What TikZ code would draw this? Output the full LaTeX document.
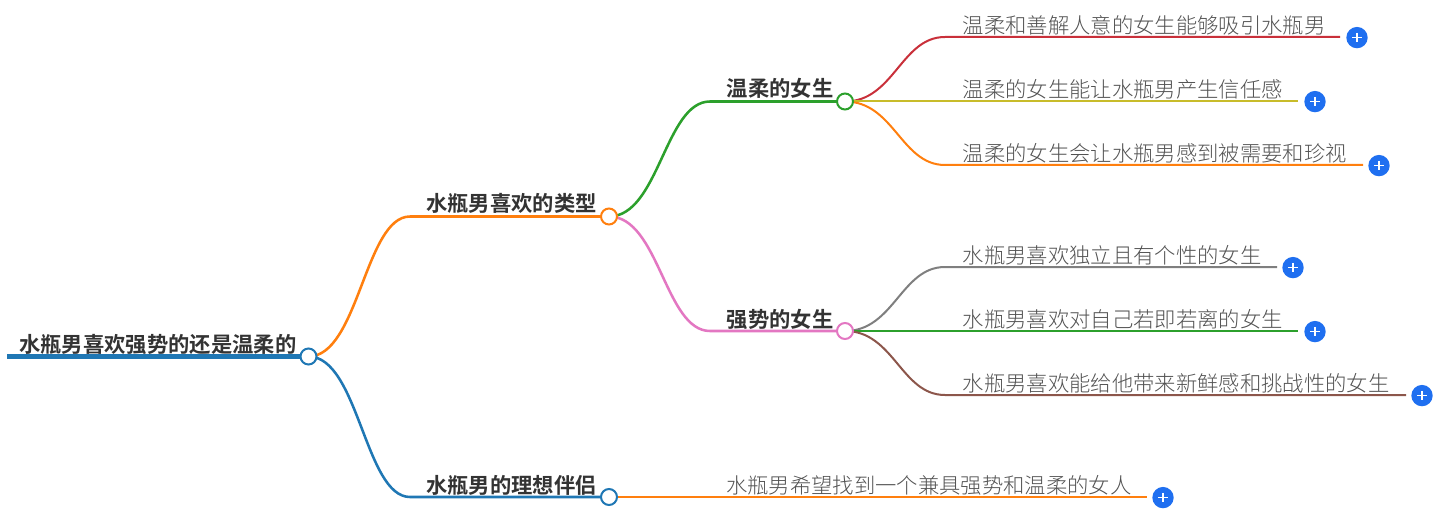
\documentclass[tikz,border=0pt]{standalone}
\usepackage{fontspec}
\newfontfamily\cjkb{Noto Sans CJK SC Bold}
\newfontfamily\cjkl{Noto Sans CJK SC Light}
\definecolor{cblue}{HTML}{1F77B4}
\definecolor{corange}{HTML}{FF7F0E}
\definecolor{cgreen}{HTML}{2CA02C}
\definecolor{cpink}{HTML}{E377C2}
\definecolor{cred}{HTML}{C9303A}
\definecolor{cyellow}{HTML}{C8BC2A}
\definecolor{cgray}{HTML}{7F7F7F}
\definecolor{cbrown}{HTML}{8C564B}
\definecolor{plusblue}{HTML}{1F6FF0}
\tikzset{
  x=0.75pt,y=-0.75pt,
  hub/.style={circle,draw=#1,fill=white,line width=1.5pt,minimum size=12pt,inner sep=0pt},
  plusbtn/.style={circle,fill=plusblue,minimum size=16pt,inner sep=0pt,
    path picture={\draw[white,line width=1.3pt] (path picture bounding box.center) ++(-4.8,0) -- ++(9.6,0) (path picture bounding box.center) ++(0,-4.8) -- ++(0,9.6);}},
  strong/.style={anchor=base west,inner sep=0pt,font=\cjkb\fontsize{16}{16}\selectfont,text=black!80},
  leaf/.style={anchor=base west,inner sep=0pt,font=\cjkl\fontsize{16}{16}\selectfont,text=black!68},
  main/.style={line width=1.9pt},
  sub/.style={line width=1.5pt},
}
\begin{document}
\begin{tikzpicture}
\useasboundingbox (0,0) rectangle (1455,520);
\coordinate (start) at (7,356.5);
\coordinate (t) at (410,216.5);
\coordinate (i) at (410,497);
\coordinate (a) at (710,101.5);
\coordinate (b) at (710,331);
\coordinate (a1) at (945,37);
\coordinate (a2) at (945,101.5);
\coordinate (a3) at (945,165);
\coordinate (b1) at (945,267);
\coordinate (b2) at (945,331);
\coordinate (b3) at (945,395);
\path (308.5,356.5) coordinate (rootc) (609,216.5) coordinate (typec) (609,497) coordinate (idealc)
      (845,101.5) coordinate (softc) (845,331) coordinate (strongc);
\node[plusbtn] (p1) at (1357,37.6) {};
\node[plusbtn] (p2) at (1315,101.6) {};
\node[plusbtn] (p3) at (1379,165.6) {};
\node[plusbtn] (p4) at (1293,267.6) {};
\node[plusbtn] (p5) at (1315,331.6) {};
\node[plusbtn] (p6) at (1422,395.6) {};
\node[plusbtn] (p7) at (1163,497.6) {};
\coordinate (e1) at (1340,37);
\coordinate (e2) at (1298,101.5);
\coordinate (e3) at (1363,165);
\coordinate (e4) at (1277,267);
\coordinate (e5) at (1298,331);
\coordinate (e6) at (1406,395);
\coordinate (e7) at (1147,497);
\draw[cblue,line width=3.6pt] (start) -- (rootc);
\draw[main,corange] (rootc) .. controls +(50,0) and +(-45,0) .. (t) -- (typec);
\draw[main,cblue] (rootc) .. controls +(50,0) and +(-45,0) .. (i) -- (idealc);
\draw[main,cgreen] (typec) .. controls +(50,0) and +(-45,0) .. (a) -- (softc);
\draw[main,cpink] (typec) .. controls +(50,0) and +(-45,0) .. (b) -- (strongc);
\draw[sub,cred] (softc) .. controls +(49,0) and +(-44,0) .. (a1) -- (e1);
\draw[sub,cyellow] (softc) -- (a2) -- (e2);
\draw[sub,corange] (softc) .. controls +(49,0) and +(-44,0) .. (a3) -- (e3);
\draw[sub,cgray] (strongc) .. controls +(49,0) and +(-44,0) .. (b1) -- (e4);
\draw[sub,cgreen] (strongc) -- (b2) -- (e5);
\draw[sub,cbrown] (strongc) .. controls +(49,0) and +(-44,0) .. (b3) -- (e6);
\draw[sub,corange] (idealc) -- (e7);
\node[hub=cblue] (root) at (rootc) {};
\node[hub=corange] (type) at (typec) {};
\node[hub=cblue] (ideal) at (idealc) {};
\node[hub=cgreen] (soft) at (softc) {};
\node[hub=cpink] (strongn) at (strongc) {};
\node[strong] (l0) at (19,352) {水瓶男喜欢强势的还是温柔的};
\node[strong] (l1) at (426,212) {水瓶男喜欢的类型};
\node[strong] (l2) at (426,493) {水瓶男的理想伴侣};
\node[strong] (l3) at (726.5,97) {温柔的女生};
\node[strong] (l4) at (726.5,327) {强势的女生};
\node[leaf] (t1) at (962.5,34) {温柔和善解人意的女生能够吸引水瓶男};
\node[leaf] (t2) at (962.5,98) {温柔的女生能让水瓶男产生信任感};
\node[leaf] (t3) at (962.5,162) {温柔的女生会让水瓶男感到被需要和珍视};
\node[leaf] (t4) at (962.5,263) {水瓶男喜欢独立且有个性的女生};
\node[leaf] (t5) at (962.5,327) {水瓶男喜欢对自己若即若离的女生};
\node[leaf] (t6) at (962.5,391) {水瓶男喜欢能给他带来新鲜感和挑战性的女生};
\node[leaf] (t7) at (726,493) {水瓶男希望找到一个兼具强势和温柔的女人};
\end{tikzpicture}
\end{document}
